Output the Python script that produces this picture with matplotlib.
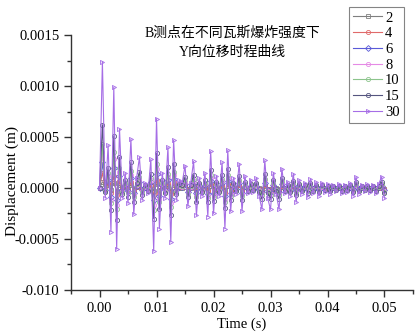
import numpy as np
import matplotlib
matplotlib.use("Agg")
import matplotlib.pyplot as plt
from matplotlib.ticker import MultipleLocator, FixedLocator, FixedFormatter

# --- DATA (displacement in units of 1e-4 m, sampled every 0.0005 s) ---
time_s = np.linspace(0.0, 0.05, 101)

s2 = [0.0, 0.6, 0.4, 0.3, -0.2, 0.5, -0.3, 0.3, 0.0, 0.1,
      -0.1, 0.3, -0.1, 0.1, 0.2, -0.1, 0.0, 0.0, 0.2, -0.3,
      0.4, -0.2, 0.1, -0.1, 0.2, -0.3, 0.3, -0.1, 0.0, 0.0,
      0.1, -0.1, 0.0, 0.2, -0.2, 0.1, 0.0, 0.1, -0.2, 0.2,
      -0.1, 0.1, 0.0, 0.1, -0.2, 0.2, -0.1, 0.1, 0.0, 0.1,
      -0.1, 0.1, 0.0, 0.0, 0.0, 0.1, 0.0, -0.1, 0.2, -0.1,
      -0.1, 0.1, 0.0, -0.1, 0.1, 0.0, 0.0, 0.0, 0.1, -0.1,
      0.0, 0.0, 0.0, -0.1, 0.1, 0.0, 0.0, 0.0, 0.0, 0.0,
      0.0, 0.0, 0.0, 0.0, 0.0, 0.0, 0.0, 0.0, 0.0, 0.0,
      0.1, 0.0, 0.0, 0.0, 0.0, 0.0, 0.0, 0.0, 0.0, 0.1,
      -0.1]
s4 = [0.0, 1.5, -0.1, 0.5, -0.5, 1.2, -0.7, 0.7, -0.1, 0.2,
      -0.2, 0.6, -0.3, 0.1, 0.4, -0.1, 0.1, -0.1, 0.3, -0.7,
      0.8, -0.5, 0.2, -0.1, 0.5, -0.6, 0.6, -0.1, 0.1, 0.1,
      0.3, -0.2, 0.1, 0.3, -0.3, 0.1, -0.1, 0.2, -0.3, 0.4,
      -0.3, 0.1, -0.1, 0.3, -0.5, 0.4, -0.3, 0.1, -0.1, 0.3,
      -0.3, 0.1, -0.1, 0.1, 0.0, 0.1, -0.1, -0.3, 0.3, -0.1,
      -0.3, 0.2, -0.1, -0.3, 0.2, -0.1, 0.1, -0.1, 0.2, -0.2,
      0.1, -0.1, 0.1, -0.1, 0.1, -0.1, 0.1, -0.1, 0.1, 0.0,
      0.0, -0.1, 0.0, 0.0, 0.0, -0.1, 0.0, 0.0, 0.1, -0.1,
      0.1, -0.1, 0.0, 0.0, 0.0, 0.0, 0.0, -0.1, 0.0, 0.1,
      -0.1]
s6 = [0.0, 2.5, -0.2, 0.8, -0.9, 2.0, -1.2, 1.2, -0.2, 0.3,
      -0.3, 1.0, -0.5, 0.2, 0.6, -0.2, 0.1, -0.1, 0.6, -1.2,
      1.4, -0.8, 0.3, -0.2, 0.8, -1.1, 0.9, -0.2, 0.2, 0.1,
      0.4, -0.4, 0.1, 0.5, -0.5, 0.2, -0.2, 0.3, -0.6, 0.7,
      -0.5, 0.2, -0.2, 0.5, -0.8, 0.7, -0.5, 0.2, -0.1, 0.5,
      -0.5, 0.2, -0.1, 0.2, -0.1, 0.2, -0.2, -0.4, 0.5, -0.2,
      -0.4, 0.3, -0.1, -0.4, 0.4, -0.1, 0.1, -0.2, 0.3, -0.3,
      0.2, -0.1, 0.1, -0.2, 0.2, -0.1, 0.1, -0.2, 0.1, -0.1,
      0.1, -0.1, 0.1, -0.1, 0.1, -0.1, 0.1, -0.1, 0.1, -0.2,
      0.2, -0.1, 0.1, -0.1, 0.1, -0.1, 0.1, -0.1, 0.1, 0.2,
      -0.2]
s8 = [0.0, 3.5, -0.3, 1.2, -1.2, 2.8, -1.7, 1.6, -0.3, 0.4,
      -0.4, 1.3, -0.7, 0.3, 0.8, -0.3, 0.1, -0.1, 0.8, -1.7,
      1.9, -1.1, 0.4, -0.3, 1.1, -1.5, 1.3, -0.3, 0.2, 0.1,
      0.6, -0.5, 0.1, 0.7, -0.8, 0.3, -0.2, 0.4, -0.8, 1.0,
      -0.7, 0.3, -0.2, 0.7, -1.1, 1.0, -0.6, 0.3, -0.2, 0.7,
      -0.6, 0.3, -0.1, 0.2, -0.1, 0.3, -0.2, -0.6, 0.8, -0.3,
      -0.6, 0.4, -0.2, -0.6, 0.5, -0.1, 0.2, -0.2, 0.4, -0.4,
      0.2, -0.2, 0.1, -0.3, 0.3, -0.1, 0.2, -0.2, 0.1, -0.1,
      0.1, -0.2, 0.1, -0.1, 0.1, -0.1, 0.1, -0.1, 0.1, -0.2,
      0.3, -0.2, 0.1, -0.1, 0.1, -0.1, 0.1, -0.1, 0.1, 0.3,
      -0.3]
s10 = [0.0, 4.3, -0.3, 1.5, -1.5, 3.5, -2.1, 2.0, -0.4, 0.5,
       -0.5, 1.7, -0.9, 0.4, 1.1, -0.4, 0.2, -0.2, 1.0, -2.2,
       2.4, -1.4, 0.5, -0.4, 1.4, -1.9, 1.6, -0.4, 0.3, 0.2,
       0.8, -0.6, 0.2, 0.9, -0.9, 0.4, -0.3, 0.5, -1.0, 1.3,
       -0.9, 0.4, -0.3, 0.9, -1.4, 1.3, -0.8, 0.4, -0.2, 0.8,
       -0.8, 0.4, -0.2, 0.3, -0.1, 0.4, -0.3, -0.7, 0.9, -0.4,
       -0.7, 0.5, -0.2, -0.7, 0.7, -0.2, 0.2, -0.3, 0.5, -0.5,
       0.3, -0.2, 0.2, -0.3, 0.3, -0.2, 0.2, -0.3, 0.2, -0.1,
       0.1, -0.2, 0.1, -0.1, 0.1, -0.2, 0.1, -0.1, 0.2, -0.3,
       0.4, -0.2, 0.1, -0.1, 0.1, -0.1, 0.1, -0.2, 0.1, 0.4,
       -0.4]
s15 = [0.0, 6.2, -0.4, 2.0, -2.2, 5.1, -3.1, 3.0, -0.6, 0.8,
       -0.9, 2.5, -1.4, 0.5, 1.6, -0.7, 0.3, -0.3, 1.4, -3.0,
       3.4, -2.1, 0.8, -0.5, 2.1, -2.7, 2.4, -0.6, 0.4, 0.3,
       1.1, -0.9, 0.3, 1.3, -1.4, 0.5, -0.4, 0.8, -1.4, 1.8,
       -1.3, 0.6, -0.4, 1.3, -2.0, 1.9, -1.2, 0.5, -0.3, 1.2,
       -1.2, 0.6, -0.3, 0.4, -0.2, 0.5, -0.4, -1.1, 1.4, -0.5,
       -1.1, 0.8, -0.3, -1.1, 1.0, -0.3, 0.3, -0.4, 0.7, -0.7,
       0.4, -0.3, 0.3, -0.5, 0.5, -0.3, 0.3, -0.4, 0.3, -0.2,
       0.2, -0.3, 0.2, -0.2, 0.2, -0.3, 0.2, -0.2, 0.3, -0.4,
       0.6, -0.3, 0.2, -0.2, 0.2, -0.2, 0.2, -0.3, 0.2, 0.6,
       -0.5]
s30 = [0.0, 12.4, -1.0, 4.2, -4.3, 9.9, -6.0, 5.8, -1.0, 1.5,
       -1.5, 4.8, -2.6, 1.0, 3.0, -1.2, 0.5, -0.5, 2.8, -6.2,
       6.8, -4.0, 1.5, -1.0, 4.0, -5.3, 4.7, -1.2, 0.8, 0.5,
       2.2, -1.8, 0.5, 2.6, -2.7, 1.0, -0.8, 1.5, -2.8, 3.6,
       -2.5, 1.2, -0.8, 2.5, -4.0, 3.7, -2.3, 1.0, -0.6, 2.4,
       -2.3, 1.2, -0.5, 0.8, -0.4, 1.0, -0.8, -2.1, 2.7, -1.0,
       -2.1, 1.5, -0.6, -2.1, 1.9, -0.5, 0.6, -0.8, 1.4, -1.4,
       0.8, -0.6, 0.5, -0.9, 0.9, -0.5, 0.6, -0.8, 0.5, -0.4,
       0.4, -0.6, 0.3, -0.3, 0.4, -0.5, 0.3, -0.4, 0.5, -0.8,
       1.1, -0.6, 0.3, -0.3, 0.4, -0.4, 0.3, -0.5, 0.4, 1.1,
       -1.0]

labels = ["2", "4", "6", "8", "10", "15", "30"]
series = [s2, s4, s6, s8, s10, s15, s30]
colors = ["#7f7f7f", "#e06a6a", "#5a5ad8", "#e58ae5", "#8cc48c", "#55557f", "#a66ee6"]
markers = ["s", "o", "D", "o", "o", "o", ">"]

ytick_vals = [-0.001, -0.0005, 0.0, 0.0005, 0.001, 0.0015]
ytick_labels = ["-0.010", "-0.0005", "0.0000", "0.0005", "0.0010", "0.0015"]

plt.rcParams['font.family'] = ['Liberation Serif', 'Noto Sans CJK SC']

fig = plt.figure(figsize=(4.18, 3.34), dpi=100)
ax = fig.add_axes([0.170, 0.132, 0.818, 0.763])

for lab, vals, col, mk in zip(labels, series, colors, markers):
    ax.plot(time_s, np.array(vals) * 1e-4, color=col, lw=0.8, marker=mk,
            ms=3, mfc='none', mew=0.6, label=lab)

ax.set_xlim(-0.005, 0.055)
ax.set_ylim(-0.001, 0.0015)
ax.xaxis.set_major_locator(FixedLocator([0.0, 0.01, 0.02, 0.03, 0.04, 0.05]))
ax.xaxis.set_major_formatter(FixedFormatter(["0.00", "0.01", "0.02", "0.03", "0.04", "0.05"]))
ax.xaxis.set_minor_locator(MultipleLocator(0.005))
ax.yaxis.set_major_locator(FixedLocator(ytick_vals))
ax.yaxis.set_major_formatter(FixedFormatter(ytick_labels))
ax.yaxis.set_minor_locator(MultipleLocator(0.00025))

ax.spines['top'].set_visible(False)
ax.spines['right'].set_visible(False)
for sp in ['left', 'bottom']:
    ax.spines[sp].set_linewidth(1.0)
    ax.spines[sp].set_color('#333333')
ax.tick_params(which='major', direction='out', length=5, width=1, labelsize=10.5, colors='#333333')
ax.tick_params(which='minor', direction='out', length=3, width=1, colors='#333333')
ax.tick_params(labelcolor='black')

ax.set_xlabel("Time (s)", fontsize=10.5, labelpad=2)
ax.set_ylabel("Displacement (m)", fontsize=11)
ax.yaxis.set_label_coords(-0.152, 0.427)

fig.text(0.555, 0.9, "B测点在不同瓦斯爆炸强度下", ha='center', va='center',
         fontsize=10, family=['Liberation Serif', 'Noto Sans CJK SC'])
fig.text(0.555, 0.842, "Y向位移时程曲线", ha='center', va='center',
         fontsize=10, family=['Liberation Serif', 'Noto Sans CJK SC'])

leg = ax.legend(loc='upper right', bbox_to_anchor=(0.967, 0.979),
                bbox_transform=fig.transFigure, fontsize=10.5, frameon=True,
                fancybox=False, edgecolor='#666666', handlelength=2.0,
                handletextpad=0.2, borderpad=0.3, labelspacing=0.17,
                borderaxespad=0.0)
leg.get_frame().set_linewidth(0.8)

fig.savefig("out.png", dpi=100)
